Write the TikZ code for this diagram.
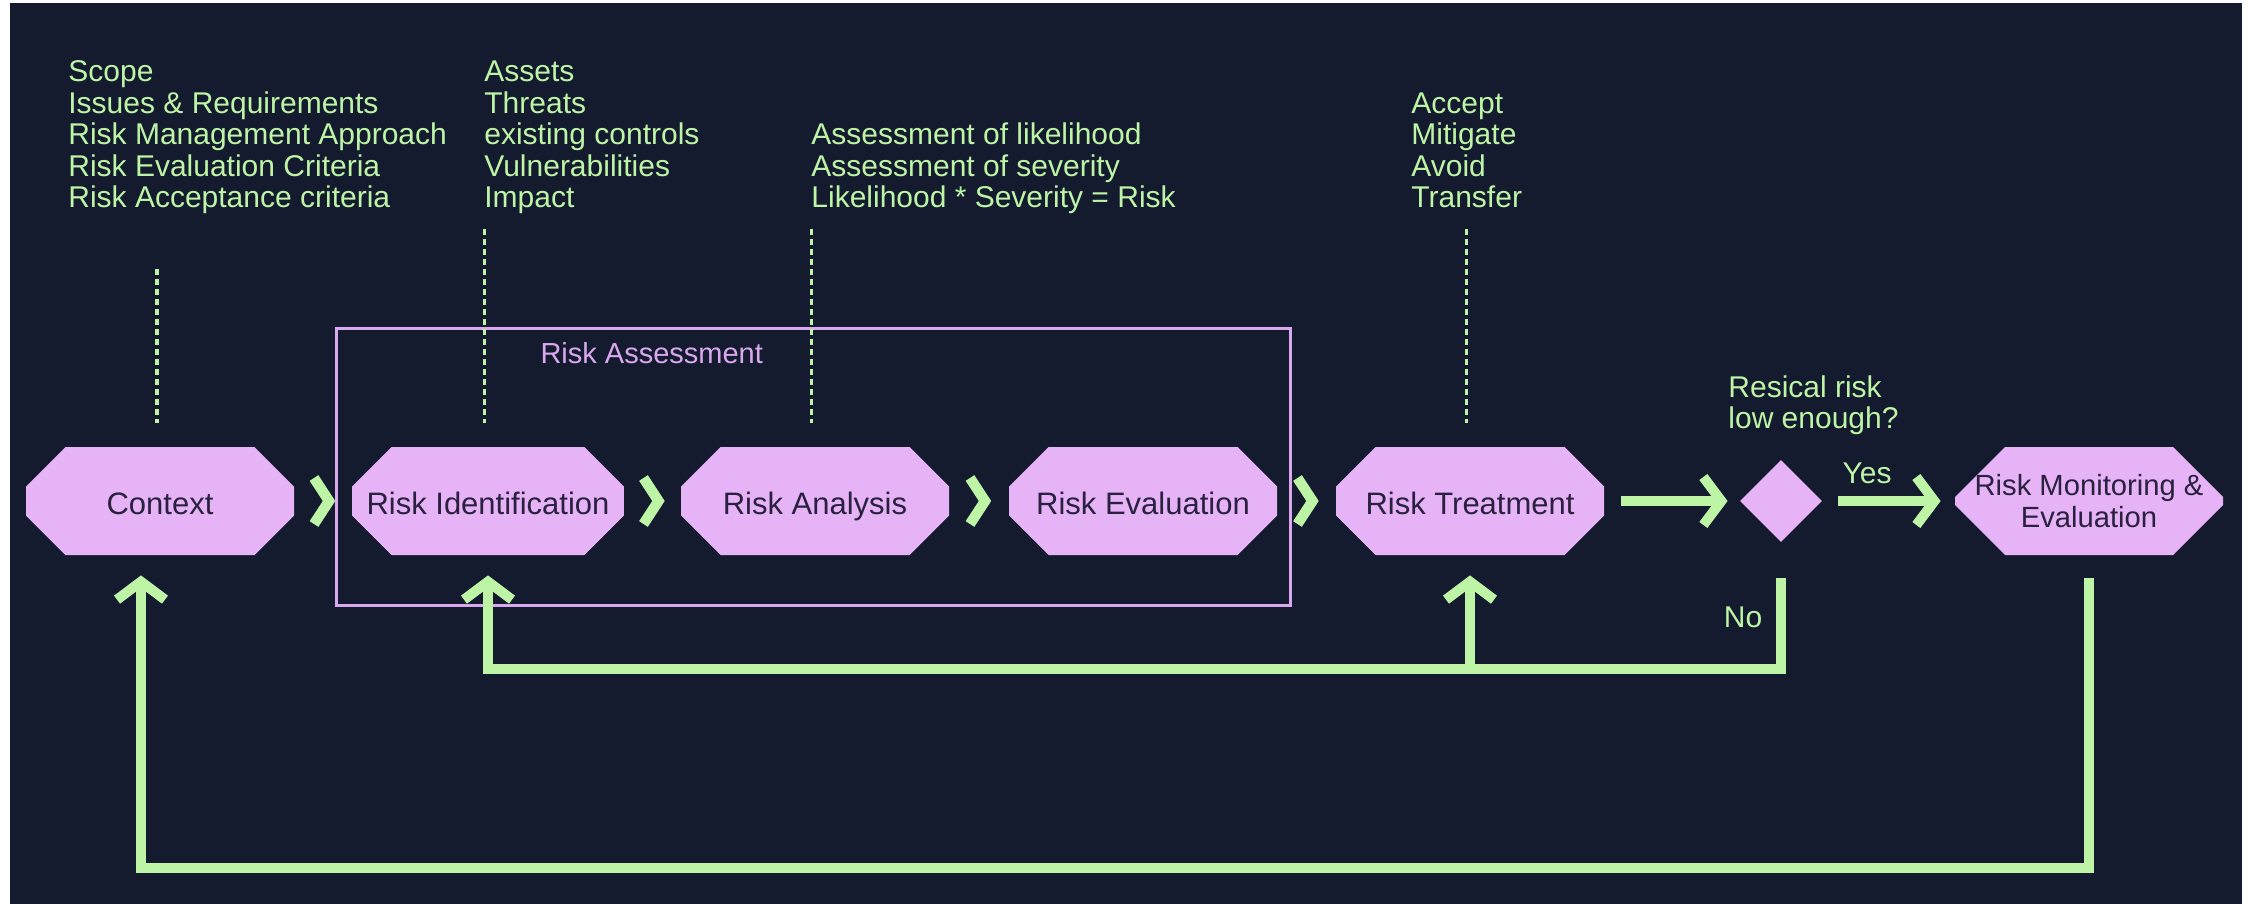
\documentclass[tikz,border=0pt]{standalone}
\usepackage{fontspec}
\setmainfont{Liberation Sans}
\usetikzlibrary{arrows.meta,calc,shapes.misc,shapes.geometric,fit}

\definecolor{bgnavy}{HTML}{141B2E}
\definecolor{mint}{HTML}{BDF4A6}
\definecolor{lilac}{HTML}{E6B3F6}
\definecolor{lilacline}{HTML}{D9A8EE}
\definecolor{inkdark}{HTML}{2A2140}

% left-aligned block of lines whose baseline is the first line's baseline
\newcommand{\linesleft}[1]{\vtop{\halign{##\hfil\cr#1\crcr}}}

\begin{document}
\begin{tikzpicture}[x=0.5pt,y=-0.5pt,
  stage/.style={chamfered rectangle, chamfered rectangle xsep=12.5pt,
    chamfered rectangle ysep=12.5pt, fill=lilac, draw=none,
    minimum width=134pt, minimum height=54pt, inner sep=0pt,
    text=inkdark, font=\fontsize{15.5pt}{16pt}\selectfont, align=center,
    text height=14pt, text depth=0.5pt},
  decision/.style={diamond, aspect=1, fill=lilac, draw=none,
    minimum size=41pt, inner sep=0pt},
  note/.style={anchor=base west, text=mint, inner sep=0pt,
    font=\fontsize{15pt}{15.75pt}\selectfont},
  tag/.style={text=mint, inner sep=0pt, font=\fontsize{15pt}{16pt}\selectfont},
  flow/.style={draw=mint, line width=5pt, line join=miter},
  tipped/.style={flow, -{Straight Barb[sharp,length=9pt,width=24pt]}},
  dotline/.style={draw=mint, line width=1.6pt, dash pattern=on 3pt off 2pt},
  chev/.style={draw=mint, line width=5.2pt, line join=miter},
]

% canvas
\useasboundingbox (0,0) rectangle (2254,904);
\fill[white] (0,0) rectangle (2254,904);
\fill[bgnavy] (10,3) rectangle (2242,904);

% process stages
\node[stage] (ctx)      at (160,501)  {Context};
\node[stage] (ident)    at (488,501)  {Risk Identification};
\node[stage] (analysis) at (815,501)  {Risk Analysis};
\node[stage] (evalu)    at (1143,501) {Risk Evaluation};
\node[stage] (treat)    at (1470,501) {Risk Treatment};
\node[decision] (dec)   at (1781,501) {};
\node[stage, inner xsep=-10pt, text height=, text depth=,
  font=\fontsize{14.6pt}{16pt}\selectfont] (monitor)
  at (2089,501) {Risk Monitoring \&\\Evaluation};

% risk assessment frame
\node[draw=lilacline, line width=1.5pt, inner sep=0pt,
  fit={($(ident.west |- ident.north)+(-15,-118)$) ($(evalu.east |- evalu.south)+(13,50)$)}] (assess) {};
\node[anchor=base west, text=lilacline, inner sep=0pt,
  font=\fontsize{14.5pt}{16pt}\selectfont] (assesslabel)
  at ($(assess.north west)+(205,36)$) {Risk Assessment};

% notes above the stages
\node[note] (ctxnote) at (68,82) {\linesleft{Scope\cr Issues \& Requirements\cr Risk Management Approach\cr Risk Evaluation Criteria\cr Risk Acceptance criteria}};
\node[note] (identnote) at (484,82) {\linesleft{Assets\cr Threats\cr existing controls\cr Vulnerabilities\cr Impact}};
\node[note] (analysisnote) at (811,145) {\linesleft{Assessment of likelihood\cr Assessment of severity\cr Likelihood * Severity = Risk}};
\node[note] (treatnote) at (1411,113.5) {\linesleft{Accept\cr Mitigate\cr Avoid\cr Transfer}};
\node[note] (decnote) at (1728,397) {\linesleft{Resical risk\cr low enough?}};

% dotted leaders from notes to stages
\draw[dotline] ([xshift=-1.5pt,yshift=89pt]ctx.north) -- ([xshift=-1.5pt,yshift=12pt]ctx.north);
\foreach \s in {ident,analysis,treat}
  \draw[dotline] ([xshift=-1.75pt,yshift=109pt]\s.north) -- ([xshift=-1.75pt,yshift=12pt]\s.north);

% chevrons between consecutive stages
\foreach \a/\b in {ctx/ident,ident/analysis,analysis/evalu,evalu/treat}{
  \coordinate (mid) at ($(\a.east)!0.5!(\b.west)$);
  \draw[chev] ($(mid)+(-9,-23)$) -- ($(mid)+(6,0)$) -- ($(mid)+(-9,23)$);
}

% decision flow
\draw[tipped] ([xshift=8.5pt]treat.east) -- ([xshift=-6pt]dec.west);
\draw[tipped] ([xshift=8pt]dec.east) -- ([xshift=-7pt]monitor.west);
\node[tag] (yes) at (1867,473) {Yes};
\node[tag] (no)  at (1743,617) {No};

% feedback loops
\coordinate (lowrail) at (0,669);
\coordinate (outerrail) at (0,868);
\draw[tipped] ([yshift=-18pt]dec.south) -- (dec.south |- lowrail) -| ([yshift=-10pt]ident.south);
\draw[tipped] (treat.south |- lowrail) -- ([yshift=-10pt]treat.south);
\draw[tipped] ([yshift=-11.5pt]monitor.south) -- (monitor.south |- outerrail) -| ([xshift=-9.5pt,yshift=-10pt]ctx.south);

\end{tikzpicture}
\end{document}
